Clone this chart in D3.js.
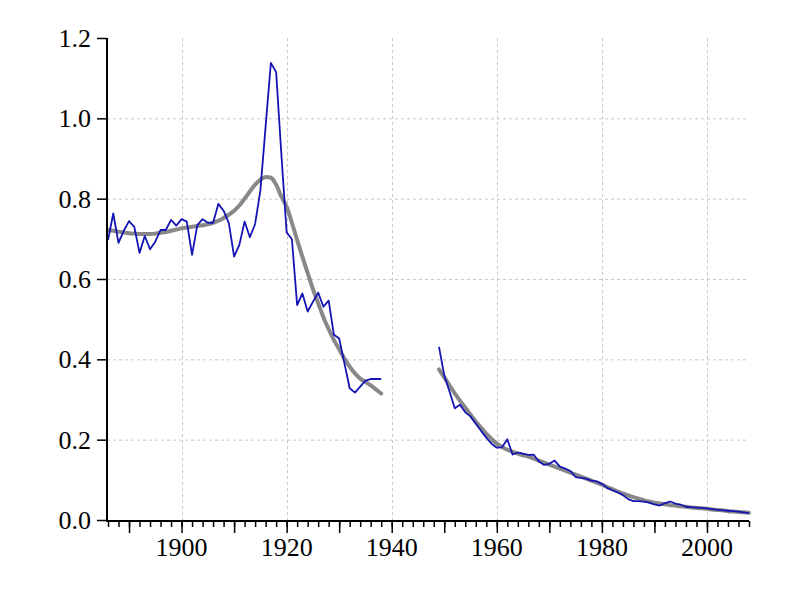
<!DOCTYPE html>
<html>
<head>
<meta charset="utf-8">
<script src="https://cdn.jsdelivr.net/npm/d3@7"></script>
<style>
html,body{margin:0;padding:0;background:#fff;}
svg{display:block;}
</style>
</head>
<body>
<svg id="chart" width="800" height="600"></svg>
<script>
// ---- data ----
const yearsA = d3.range(1886, 1939);
const actualA = [0.697,0.763,0.690,0.720,0.744,0.730,0.665,0.707,0.674,0.693,
                 0.722,0.722,0.747,0.733,0.749,0.743,0.660,0.734,0.749,0.740,
                 0.740,0.787,0.770,0.739,0.656,0.685,0.743,0.704,0.737,0.820,
                 0.980,1.138,1.115,0.910,0.716,0.699,0.535,0.564,0.519,0.543,
                 0.566,0.531,0.546,0.461,0.452,0.390,0.328,0.317,0.332,0.347,
                 0.351,0.351,0.351];
const trendA = [0.722,0.720,0.718,0.716,0.714,0.713,0.712,0.712,0.712,0.713,
                0.715,0.717,0.720,0.723,0.726,0.728,0.730,0.732,0.734,0.736,
                0.740,0.745,0.752,0.760,0.770,0.783,0.800,0.818,0.835,0.847,
                0.854,0.852,0.835,0.805,0.780,0.740,0.697,0.655,0.615,0.575,
                0.540,0.505,0.475,0.448,0.425,0.402,0.382,0.365,0.352,0.344,
                0.335,0.325,0.315];
const yearsB = d3.range(1949, 2009);
const actualB = [0.431,0.360,0.320,0.278,0.287,0.268,0.258,0.240,0.222,0.205,
                 0.190,0.180,0.181,0.201,0.163,0.168,0.165,0.162,0.163,0.146,
                 0.137,0.140,0.148,0.133,0.128,0.122,0.107,0.105,0.103,0.098,
                 0.096,0.090,0.080,0.074,0.069,0.062,0.052,0.047,0.047,0.046,
                 0.043,0.039,0.036,0.042,0.046,0.041,0.038,0.033,0.032,0.031,
                 0.030,0.029,0.027,0.025,0.024,0.023,0.022,0.021,0.019,0.017];
const trendB = [0.375,0.355,0.335,0.315,0.297,0.280,0.262,0.245,0.230,0.215,
                0.202,0.190,0.182,0.175,0.170,0.165,0.161,0.158,0.153,0.148,
                0.143,0.138,0.133,0.128,0.123,0.118,0.113,0.108,0.103,0.098,
                0.093,0.088,0.082,0.077,0.071,0.066,0.061,0.057,0.053,0.049,
                0.046,0.043,0.041,0.039,0.037,0.036,0.034,0.033,0.031,0.030,
                0.029,0.028,0.026,0.025,0.024,0.022,0.021,0.020,0.019,0.018];
const yTicks = [0.0,0.2,0.4,0.6,0.8,1.0,1.2];
const xLabelTicks = [1900,1920,1940,1960,1980,2000];

// ---- layout ----
const svg = d3.select("#chart");
const x = d3.scaleLinear().domain([1886, 2008]).range([108, 749]);
const y = d3.scaleLinear().domain([0, 1.2]).range([520, 38]);
const FONT = "Liberation Serif, serif";

// gridlines
const grid = svg.append("g").attr("stroke", "#c8c8c8").attr("stroke-width", 1)
  .attr("stroke-dasharray", "3,3").attr("fill", "none");
grid.selectAll("line.h").data(yTicks.filter(d => d > 0 && d < 1.2)).join("line")
  .attr("x1", 107).attr("x2", 749).attr("y1", d => y(d) + 0.5).attr("y2", d => y(d) + 0.5);
grid.selectAll("line.v").data(xLabelTicks).join("line")
  .attr("x1", d => Math.round(x(d)) + 0.5).attr("x2", d => Math.round(x(d)) + 0.5)
  .attr("y1", 38).attr("y2", 520);

// lines
const line = d3.line().x(d => x(d[0])).y(d => y(d[1]));
const smooth = d3.line().x(d => x(d[0])).y(d => y(d[1])).curve(d3.curveMonotoneX);
const segT = [d3.zip(yearsA, trendA), d3.zip(yearsB, trendB)];
const segA = [d3.zip(yearsA, actualA), d3.zip(yearsB, actualB)];
svg.append("g").selectAll("path").data(segT).join("path")
  .attr("d", smooth).attr("fill", "none").attr("stroke", "#888888")
  .attr("stroke-width", 4).attr("stroke-linejoin", "round").attr("stroke-linecap", "round");
svg.append("g").selectAll("path").data(segA).join("path")
  .attr("d", line).attr("fill", "none").attr("stroke", "#1414b4")
  .attr("stroke-width", 1.8).attr("stroke-linejoin", "round");

// y axis (ticks via d3 axis, labels as own text)
const yAxis = d3.axisLeft(y).tickValues(yTicks).tickFormat("").tickSize(10);
const gy = svg.append("g").attr("transform", "translate(107,0)").call(yAxis);
gy.select(".domain").attr("stroke", "#000").attr("stroke-width", 2).attr("d", `M0,${y(1.2)}V${y(0)+1}`);
gy.selectAll(".tick line").attr("stroke", "#000").attr("stroke-width", 1.5);
svg.append("g").selectAll("text").data(yTicks).join("text")
  .attr("x", 91).attr("y", d => y(d)).attr("dy", "0.34em")
  .attr("text-anchor", "end")
  .style("font-family", FONT).style("font-size", "26px").style("fill", "#000")
  .text(d3.format(".1f"));

// x axis: minor ticks every 2 years, major every 10
const xMinor = d3.axisBottom(x).tickValues(d3.range(1886, 2009, 2)).tickSize(6).tickFormat("");
const gxm = svg.append("g").attr("transform", "translate(0,521)").call(xMinor);
gxm.select(".domain").attr("stroke", "#000").attr("stroke-width", 2).attr("d", `M106,0H749`);
gxm.selectAll(".tick line").attr("stroke", "#000").attr("stroke-width", 1.5);

const xMajor = d3.axisBottom(x).tickValues(d3.range(1890, 2009, 10)).tickSize(12).tickFormat("");
const gx = svg.append("g").attr("transform", "translate(0,521)").call(xMajor);
gx.select(".domain").remove();
gx.selectAll(".tick line").attr("stroke", "#000").attr("stroke-width", 1.5);
svg.append("g").selectAll("text").data(xLabelTicks).join("text")
  .attr("x", d => x(d)).attr("y", 556)
  .attr("text-anchor", "middle")
  .style("font-family", FONT).style("font-size", "26px").style("fill", "#000")
  .text(d => d);
</script>
</body>
</html>
